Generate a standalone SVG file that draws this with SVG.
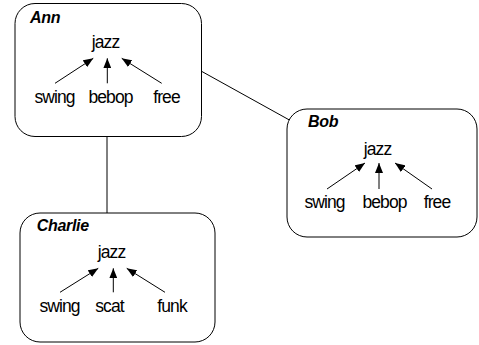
<svg xmlns="http://www.w3.org/2000/svg" width="479" height="345" viewBox="0 0 479 345">
<style>
.box{fill:#fff;stroke:#000;stroke-width:1}
.t{font-family:"Liberation Sans",Arial,sans-serif;font-size:17.5px;fill:#000;text-anchor:middle;letter-spacing:-0.9px}
.h{font-family:"Liberation Sans",Arial,sans-serif;font-size:16px;font-weight:bold;font-style:italic;fill:#000;letter-spacing:-0.3px}
.a{stroke:#000;stroke-width:1;fill:none;marker-end:url(#ah)}
.c{stroke:#000;stroke-width:1;fill:none}
</style>
<defs>
<marker id="ah" viewBox="0 0 10 8" refX="10" refY="4" markerWidth="10" markerHeight="8" markerUnits="userSpaceOnUse" orient="auto">
<path d="M0,0 L10,4 L0,8 Z" fill="#000"/>
</marker>
</defs>
<rect width="479" height="345" fill="#fff"/>
<g id="connectors">
<line class="c" x1="107" y1="136.5" x2="107" y2="213"/>
<line class="c" x1="201" y1="71" x2="293" y2="122"/>
</g>
<g id="ann">
<rect class="box" x="15" y="3.5" width="186.5" height="133" rx="20"/>
<text class="h" x="30" y="22.5">Ann</text>
<text class="t" x="105.5" y="48.3">jazz</text>
<text class="t" x="54.5" y="102.7">swing</text>
<text class="t" x="110.5" y="102.7">bebop</text>
<text class="t" x="166.5" y="102.7">free</text>
<line class="a" x1="55" y1="83.3" x2="93.3" y2="58.3"/>
<line class="a" x1="107.3" y1="83.3" x2="107.3" y2="58.3"/>
<line class="a" x1="161.7" y1="83.3" x2="121.7" y2="58.3"/>
</g>
<g id="bob">
<rect class="box" x="287" y="109" width="190" height="128" rx="20"/>
<text class="h" x="308" y="127">Bob</text>
<text class="t" x="377.5" y="155">jazz</text>
<text class="t" x="324.5" y="208">swing</text>
<text class="t" x="384.5" y="208">bebop</text>
<text class="t" x="437" y="208">free</text>
<line class="a" x1="327" y1="189" x2="365" y2="163"/>
<line class="a" x1="379" y1="189" x2="379" y2="163"/>
<line class="a" x1="432" y1="189" x2="395" y2="163"/>
</g>
<g id="charlie">
<rect class="box" x="20" y="213" width="195" height="129" rx="20"/>
<text class="h" x="36.7" y="231">Charlie</text>
<text class="t" x="111.5" y="258.3">jazz</text>
<text class="t" x="59.5" y="311.7">swing</text>
<text class="t" x="109.5" y="311.7">scat</text>
<text class="t" x="172" y="311.7">funk</text>
<line class="a" x1="60" y1="292.3" x2="98.3" y2="268.3"/>
<line class="a" x1="113.3" y1="292.3" x2="113.3" y2="268.3"/>
<line class="a" x1="165" y1="292.3" x2="126.7" y2="268.3"/>
</g>
</svg>
